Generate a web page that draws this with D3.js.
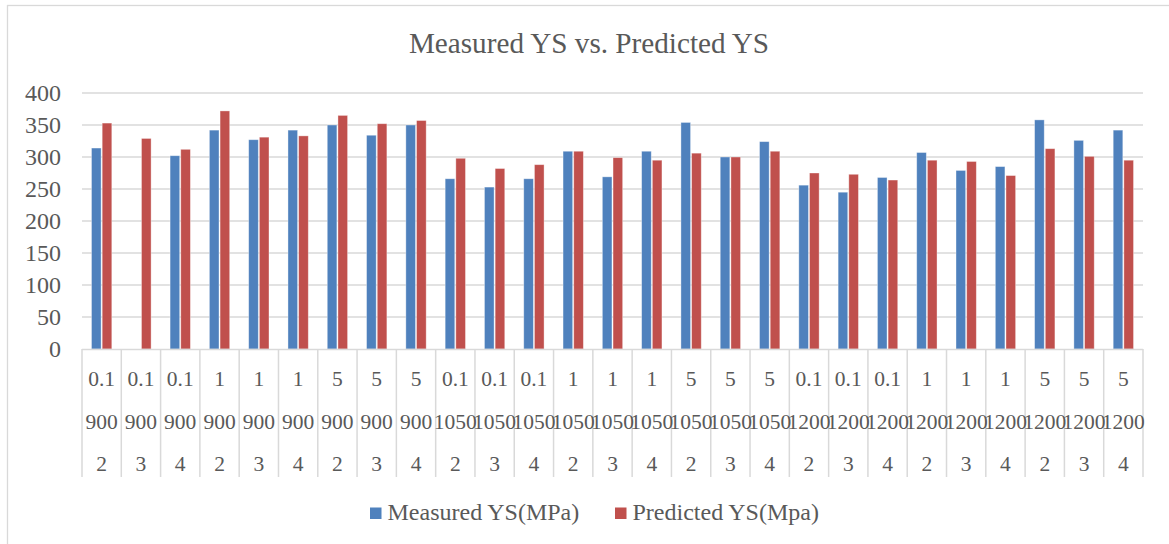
<!DOCTYPE html>
<html>
<head>
<meta charset="utf-8">
<script src="https://cdn.jsdelivr.net/npm/d3@7"></script>
<style>
  html, body { margin: 0; padding: 0; background: #fff; }
  svg { display: block; }
  svg text { font-family: "Liberation Serif", Tinos, "Times New Roman", "DejaVu Serif", serif; }
</style>
</head>
<body>
<svg id="chart" width="1169" height="544"></svg>
<script>
// Category levels (top row to bottom row under the axis)
const strainRate = ["0.1","0.1","0.1","1","1","1","5","5","5",
                    "0.1","0.1","0.1","1","1","1","5","5","5",
                    "0.1","0.1","0.1","1","1","1","5","5","5"];
const temperature = ["900","900","900","900","900","900","900","900","900",
                     "1050","1050","1050","1050","1050","1050","1050","1050","1050",
                     "1200","1200","1200","1200","1200","1200","1200","1200","1200"];
const level3 = ["2","3","4","2","3","4","2","3","4",
                "2","3","4","2","3","4","2","3","4",
                "2","3","4","2","3","4","2","3","4"];

// Yield strength values (MPa)
const measuredYS = [314, null, 302, 342, 327, 342, 350, 334, 350,
                    266, 253, 266, 309, 269, 309, 354, 300, 324,
                    256, 245, 268, 307, 279, 285, 358, 326, 342];
const predictedYS = [353, 329, 312, 372, 331, 333, 365, 352, 357,
                     298, 282, 288, 309, 299, 295, 306, 300, 309,
                     275, 273, 264, 295, 293, 271, 313, 301, 295];

const seriesNames = ["Measured YS(MPa)", "Predicted YS(Mpa)"];
const seriesColors = ["#4f81bd", "#c0504d"];
const yTicks = [0, 50, 100, 150, 200, 250, 300, 350, 400];

const svg = d3.select("#chart");
const textColor = "#595959";
const gridColor = "#d9d9d9";

// Chart frame
svg.append("rect")
  .attr("x", 7.5).attr("y", 5.5)
  .attr("width", 1200).attr("height", 600)
  .attr("fill", "none").attr("stroke", gridColor).attr("stroke-width", 1.3);

// Title
svg.append("text")
  .attr("x", 589).attr("y", 53)
  .attr("text-anchor", "middle")
  .attr("font-size", 29.2)
  .attr("fill", textColor)
  .text("Measured YS vs. Predicted YS");

const plotLeft = 82, plotRight = 1143, plotTop = 93, plotBottom = 349;

const idx = d3.range(strainRate.length);
const x = d3.scaleBand().domain(idx).range([plotLeft, plotRight]).paddingInner(0.483).paddingOuter(0.2415);
const xs = d3.scaleBand().domain([0, 1]).range([0, x.bandwidth()]).paddingInner(0.1);
const y = d3.scaleLinear().domain([0, 400]).range([plotBottom, plotTop]);
const step = x.step();

// Gridlines
svg.append("g").selectAll("line").data(yTicks.filter(t => t > 0)).join("line")
  .attr("x1", plotLeft).attr("x2", plotRight)
  .attr("y1", d => y(d)).attr("y2", d => y(d))
  .attr("stroke", gridColor).attr("stroke-width", 1.3);

// Y axis labels
const yAxis = svg.append("g")
  .attr("transform", `translate(${plotLeft},0)`)
  .call(d3.axisLeft(y).tickValues(yTicks).tickSize(0).tickPadding(21));
yAxis.attr("font-family", null);
yAxis.select(".domain").remove();
yAxis.selectAll("text")
  .attr("font-size", 24)
  .attr("fill", textColor);

// Bars
const series = [measuredYS, predictedYS];
series.forEach((vals, s) => {
  svg.append("g").selectAll("rect")
    .data(idx.filter(i => vals[i] != null))
    .join("rect")
    .attr("x", i => x(i) + xs(s))
    .attr("width", xs.bandwidth())
    .attr("y", i => y(vals[i]))
    .attr("height", i => y(0) - y(vals[i]))
    .attr("fill", seriesColors[s])
    .attr("stroke", "rgba(255,255,255,0.45)")
    .attr("stroke-width", 0.8);
});

// Category axis line and separators
svg.append("line")
  .attr("x1", plotLeft).attr("x2", plotRight)
  .attr("y1", plotBottom + 0.5).attr("y2", plotBottom + 0.5)
  .attr("stroke", gridColor).attr("stroke-width", 1.5);

const sepPositions = d3.range(idx.length + 1).map(i => plotLeft + i * step);
svg.append("g").selectAll("line").data(sepPositions).join("line")
  .attr("x1", d => d).attr("x2", d => d)
  .attr("y1", plotBottom).attr("y2", 477)
  .attr("stroke", gridColor).attr("stroke-width", 1.5);

// Multi-level category labels
const rows = [
  { labels: strainRate, yPos: 386 },
  { labels: temperature, yPos: 428.5 },
  { labels: level3, yPos: 470.5 }
];
rows.forEach(r => {
  svg.append("g").selectAll("text").data(idx).join("text")
    .attr("x", i => x(i) + x.bandwidth() / 2)
    .attr("y", r.yPos)
    .attr("text-anchor", "middle")
    .attr("font-size", 21.5)
    .attr("fill", textColor)
    .text(i => r.labels[i]);
});

// Legend
const legendItems = [
  { name: seriesNames[0], color: seriesColors[0], x: 370 },
  { name: seriesNames[1], color: seriesColors[1], x: 615 }
];
const lg = svg.append("g");
legendItems.forEach(item => {
  lg.append("rect")
    .attr("x", item.x).attr("y", 507.5)
    .attr("width", 11.5).attr("height", 11.5)
    .attr("fill", item.color);
  lg.append("text")
    .attr("x", item.x + 17.5).attr("y", 519.5)
    .attr("font-size", 24)
    .attr("fill", textColor)
    .text(item.name);
});
</script>
</body>
</html>
